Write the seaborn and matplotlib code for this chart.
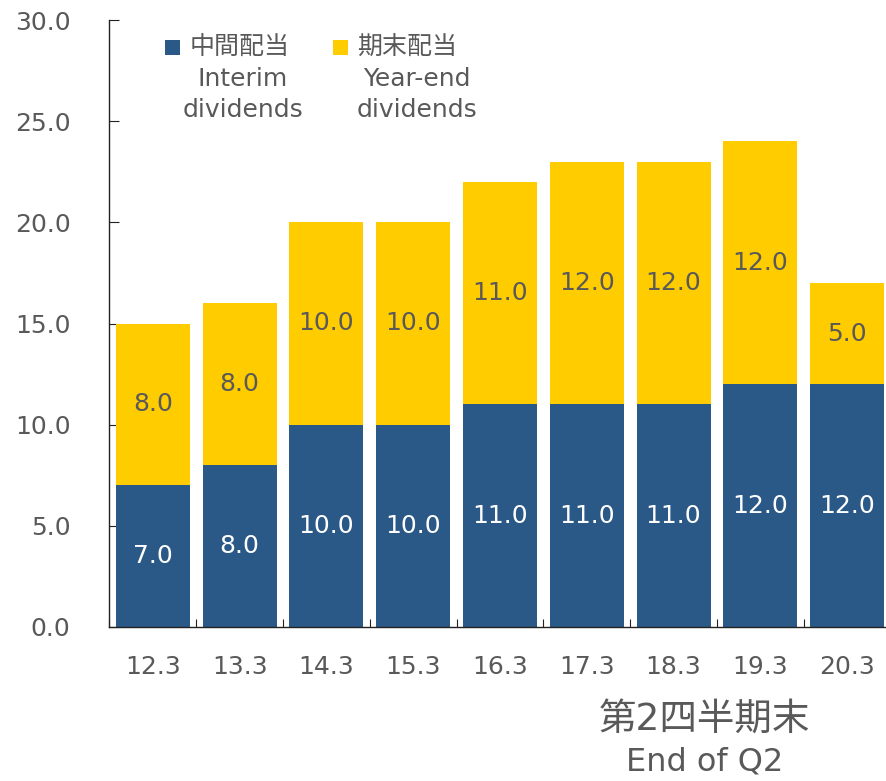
import matplotlib
matplotlib.use("Agg")
import matplotlib.pyplot as plt
import seaborn as sns
import numpy as np
from matplotlib.patches import Rectangle

categories = ["12.3", "13.3", "14.3", "15.3", "16.3", "17.3", "18.3", "19.3", "20.3"]
interim = [7.0, 8.0, 10.0, 10.0, 11.0, 11.0, 11.0, 12.0, 12.0]
year_end = [8.0, 8.0, 10.0, 10.0, 11.0, 12.0, 12.0, 12.0, 5.0]
y_ticks = [0, 5, 10, 15, 20, 25, 30]

NAVY = "#2B5987"
YELLOW = "#FFCC00"
GRAY = "#595959"

sns.set_style("white")
plt.rcParams["font.family"] = ["DejaVu Sans", "Noto Sans CJK JP"]

fig = plt.figure(figsize=(8.87, 7.81), dpi=100)
ax = fig.add_axes([109.5/887, 1-627/781, (890.5-109.5)/887, (627-20)/781])
ax.patch.set_alpha(0)

totals = [a + b for a, b in zip(interim, year_end)]
sns.barplot(x=categories, y=totals, color=YELLOW, saturation=1, width=0.853,
            linewidth=0, edgecolor="none", ax=ax)
sns.barplot(x=categories, y=interim, color=NAVY, saturation=1, width=0.853,
            linewidth=0, edgecolor="none", ax=ax)

for i, (a, b) in enumerate(zip(interim, year_end)):
    ax.text(i, a / 2, f"{a:.1f}", ha="center", va="center", color="white", fontsize=18)
    ax.text(i, a + b / 2, f"{b:.1f}", ha="center", va="center", color=GRAY, fontsize=18)

ax.set_xlim(-0.5, len(categories) - 0.5)
ax.set_ylim(0, 30)
ax.set_yticks(y_ticks)
ax.set_yticklabels([f"{v:.1f}" for v in y_ticks])
ax.set_xlabel("")
ax.set_ylabel("")

for s in ["top", "right"]:
    ax.spines[s].set_visible(False)
for s in ["left", "bottom"]:
    ax.spines[s].set_color("#222222")
    ax.spines[s].set_linewidth(1.0)

ax.tick_params(axis="y", direction="in", length=7, width=0.8, color="#222222",
               labelsize=18, labelcolor=GRAY, pad=28, left=True)
ax.tick_params(axis="x", which="major", length=0, labelsize=18, labelcolor=GRAY, pad=20)
ax.set_xticks(np.arange(-0.5, len(categories), 1.0), minor=True)
ax.tick_params(axis="x", which="minor", direction="in", length=6, width=0.8, color="#222222", bottom=True)

# legend
fig.patches.append(Rectangle((165/887, 1-55/781), 15/887, 15/781, transform=fig.transFigure,
                             facecolor=NAVY, edgecolor="none"))
fig.patches.append(Rectangle((333/887, 1-55/781), 15/887, 15/781, transform=fig.transFigure,
                             facecolor=YELLOW, edgecolor="none"))
fig.text(190/887, 1-48/781, "中間配当", ha="left", va="center", fontsize=18, color=GRAY)
fig.text(243/887, 1-79/781, "Interim", ha="center", va="center", fontsize=18, color=GRAY)
fig.text(243/887, 1-110/781, "dividends", ha="center", va="center", fontsize=18, color=GRAY)
fig.text(357/887, 1-48/781, "期末配当", ha="left", va="center", fontsize=18, color=GRAY)
fig.text(417/887, 1-79/781, "Year-end", ha="center", va="center", fontsize=18, color=GRAY)
fig.text(417/887, 1-110/781, "dividends", ha="center", va="center", fontsize=18, color=GRAY)

fig.text(704/887, 1-720/781, "第2四半期末", ha="center", va="center", fontsize=27, color=GRAY)
fig.text(705/887, 1-762/781, "End of Q2", ha="center", va="center", fontsize=23, color=GRAY)

fig.savefig("out.png", dpi=100)
